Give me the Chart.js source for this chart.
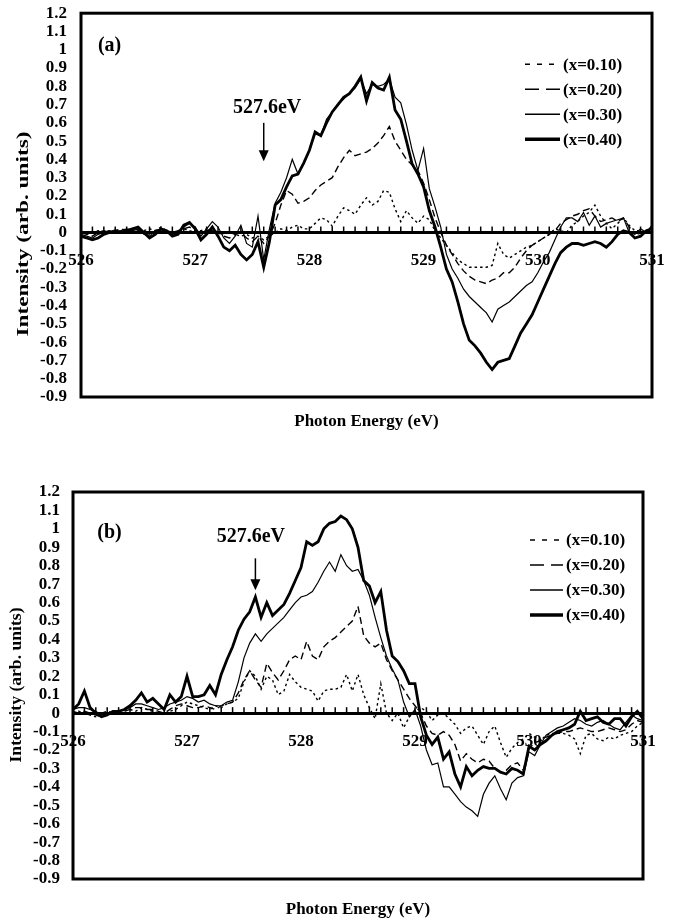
<!DOCTYPE html>
<html lang="en">
<head>
    <meta charset="UTF-8">
    <title>O K-edge difference spectra</title>
    <script src="https://cdn.jsdelivr.net/npm/chart.js"></script>
    <style>
        html, body { margin: 0; background: #fff; overflow: hidden; }
        .panel { position: absolute; left: 0; }
        #panelA { top: -11px; }
        #panelB { top: 440px; }
    </style>
</head>
<body>
    <canvas id="panelA" class="panel" width="683" height="451"></canvas>
    <canvas id="panelB" class="panel" width="674" height="482"></canvas>

    <script>
        // photon energy grid (eV)
        const energy = [
            526.00, 526.05, 526.10, 526.15, 526.20, 526.25, 526.30, 526.35, 526.40, 526.45,
            526.50, 526.55, 526.60, 526.65, 526.70, 526.75, 526.80, 526.85, 526.90, 526.95,
            527.00, 527.05, 527.10, 527.15, 527.20, 527.25, 527.30, 527.35, 527.40, 527.45,
            527.50, 527.55, 527.60, 527.65, 527.70, 527.75, 527.80, 527.85, 527.90, 527.95,
            528.00, 528.05, 528.10, 528.15, 528.20, 528.25, 528.30, 528.35, 528.40, 528.45,
            528.50, 528.55, 528.60, 528.65, 528.70, 528.75, 528.80, 528.85, 528.90, 528.95,
            529.00, 529.05, 529.10, 529.15, 529.20, 529.25, 529.30, 529.35, 529.40, 529.45,
            529.50, 529.55, 529.60, 529.65, 529.70, 529.75, 529.80, 529.85, 529.90, 529.95,
            530.00, 530.05, 530.10, 530.15, 530.20, 530.25, 530.30, 530.35, 530.40, 530.45,
            530.50, 530.55, 530.60, 530.65, 530.70, 530.75, 530.80, 530.85, 530.90, 530.95,
            531.00
        ];

        const seriesLabels = ["(x=0.10)", "(x=0.20)", "(x=0.30)", "(x=0.40)"];

        // panel (a)
        const a10 = [
            0.00, -0.01, 0.00, 0.01, 0.00, 0.01, 0.00, 0.01, 0.02, 0.01,
            0.00, 0.01, 0.02, 0.01, 0.03, 0.01, 0.00, 0.01, 0.02, 0.01,
            0.00, 0.01, 0.02, 0.01, 0.00, -0.01, 0.00, -0.01, -0.02, -0.01,
            -0.03, -0.02, -0.04, -0.02, 0.00, 0.02, 0.01, 0.03, 0.04, 0.02,
            0.02, 0.05, 0.08, 0.07, 0.035, 0.09, 0.135, 0.12, 0.10, 0.15,
            0.19, 0.15, 0.17, 0.23, 0.22, 0.13, 0.06, 0.12, 0.08, 0.05,
            0.09, 0.07, 0.01, -0.03, -0.07, -0.11, -0.15, -0.17, -0.19, -0.19,
            -0.19, -0.19, -0.18, -0.06, -0.12, -0.14, -0.12, -0.10, -0.08, -0.07,
            -0.05, -0.03, -0.01, 0.02, 0.01, 0.00, 0.04, 0.06, 0.09, 0.11,
            0.15, 0.09, 0.05, 0.02, 0.05, 0.08, 0.04, 0.01, 0.01, 0.00,
            0.01
        ];
        const a20 = [
            0.00, -0.01, -0.02, 0.00, 0.01, 0.00, 0.01, 0.02, 0.01, 0.00,
            0.01, 0.00, -0.01, 0.01, 0.02, 0.01, 0.00, 0.01, 0.02, 0.03,
            0.01, 0.00, 0.01, 0.02, 0.00, -0.02, -0.03, -0.01, 0.00, -0.03,
            -0.05, -0.02, -0.06, -0.02, 0.05, 0.15, 0.23, 0.21, 0.16, 0.17,
            0.19, 0.23, 0.26, 0.28, 0.30, 0.36, 0.41, 0.45, 0.42, 0.43,
            0.44, 0.46, 0.49, 0.53, 0.58, 0.50, 0.45, 0.40, 0.37, 0.34,
            0.27, 0.18, 0.08, 0.00, -0.07, -0.12, -0.17, -0.21, -0.24, -0.26,
            -0.27, -0.28, -0.26, -0.25, -0.22, -0.22, -0.19, -0.14, -0.10, -0.07,
            -0.05, -0.03, -0.01, 0.01, 0.05, 0.07, 0.09, 0.10, 0.12, 0.13,
            0.09, 0.06, 0.07, 0.08, 0.06, 0.08, 0.03, 0.00, -0.01, 0.01,
            0.02
        ];
        const a30 = [
            -0.01, -0.02, -0.03, -0.01, 0.00, 0.01, 0.00, 0.01, 0.02, 0.01,
            0.02, -0.01, -0.02, 0.01, 0.02, 0.00, -0.01, 0.00, 0.03, 0.05,
            0.03, -0.02, 0.02, 0.06, 0.03, -0.03, -0.06, -0.02, 0.04, -0.06,
            -0.08, 0.09, -0.15, 0.02, 0.16, 0.22, 0.30, 0.40, 0.32, 0.38,
            0.45, 0.54, 0.53, 0.62, 0.66, 0.70, 0.73, 0.76, 0.79, 0.84,
            0.76, 0.81, 0.80, 0.81, 0.84, 0.74, 0.71, 0.59, 0.45, 0.34,
            0.46, 0.24, 0.14, 0.03, -0.12, -0.20, -0.25, -0.31, -0.35, -0.38,
            -0.41, -0.44, -0.49, -0.42, -0.40, -0.38, -0.35, -0.32, -0.29, -0.27,
            -0.22, -0.16, -0.11, -0.04, 0.03, 0.08, 0.08, 0.06, 0.11, 0.04,
            0.09, 0.03, 0.05, 0.06, 0.07, 0.08, 0.00, -0.01, 0.02, 0.00,
            0.04
        ];
        const a40 = [
            -0.02, -0.03, -0.04, -0.03, -0.01, 0.00, 0.01, 0.00, 0.01, 0.02,
            0.03, 0.00, -0.03, -0.01, 0.02, 0.01, -0.02, -0.01, 0.04, 0.055,
            0.02, -0.04, -0.01, 0.03, -0.02, -0.08, -0.10, -0.07, -0.12, -0.15,
            -0.12, -0.05, -0.19, -0.05, 0.15, 0.18, 0.25, 0.31, 0.32, 0.38,
            0.45, 0.55, 0.53, 0.60, 0.66, 0.70, 0.74, 0.76, 0.80, 0.85,
            0.72, 0.82, 0.79, 0.78, 0.85, 0.67, 0.62, 0.50, 0.375, 0.32,
            0.25, 0.12, 0.03, -0.08, -0.20, -0.27, -0.38, -0.50, -0.59, -0.62,
            -0.66, -0.71, -0.75, -0.71, -0.70, -0.69, -0.62, -0.55, -0.50, -0.45,
            -0.38, -0.31, -0.24, -0.17, -0.11, -0.08, -0.06, -0.06, -0.07, -0.06,
            -0.05, -0.06, -0.08, -0.05, -0.01, 0.01, 0.00, -0.03, -0.02, 0.01,
            0.02
        ];

        // panel (b)
        const b10 = [
            0.00, 0.01, 0.00, -0.01, -0.02, 0.00, 0.01, 0.00, 0.01, 0.02,
            0.02, 0.01, 0.03, 0.02, 0.01, 0.00, -0.01, 0.01, 0.02, 0.04,
            0.06, 0.05, 0.04, 0.03, 0.02, 0.04, 0.03, 0.05, 0.06, 0.08,
            0.17, 0.23, 0.20, 0.13, 0.20, 0.18, 0.10, 0.12, 0.21, 0.17,
            0.14, 0.13, 0.12, 0.065, 0.12, 0.13, 0.13, 0.14, 0.21, 0.12,
            0.21, 0.10, 0.03, -0.03, 0.16, 0.00, -0.04, 0.00, -0.08, -0.02,
            0.01, 0.03, 0.01, -0.04, -0.01, 0.00, -0.03, -0.06, -0.11, -0.08,
            -0.07, -0.12, -0.17, -0.10, -0.07, -0.16, -0.24, -0.19, -0.16, -0.14,
            -0.11, -0.13, -0.15, -0.12, -0.11, -0.11, -0.11, -0.12, -0.14, -0.22,
            -0.12, -0.11, -0.14, -0.15, -0.13, -0.14, -0.12, -0.11, -0.10, -0.07,
            -0.05
        ];
        const b20 = [
            0.01, 0.00, 0.01, 0.00, -0.01, -0.02, 0.00, 0.01, 0.00, 0.01,
            0.02, 0.03, 0.03, 0.02, 0.02, 0.01, 0.00, 0.02, 0.04, 0.05,
            0.04, 0.03, 0.03, 0.04, 0.03, 0.02, 0.04, 0.05, 0.06, 0.11,
            0.18, 0.23, 0.18, 0.14, 0.27, 0.22, 0.18, 0.23, 0.29, 0.31,
            0.29, 0.39, 0.31, 0.29, 0.36, 0.39, 0.41, 0.44, 0.47, 0.50,
            0.58, 0.42, 0.38, 0.36, 0.38, 0.29, 0.23, 0.18, 0.13, 0.08,
            0.04, 0.00, -0.07, -0.11, -0.12, -0.10, -0.12, -0.17, -0.26, -0.22,
            -0.25, -0.27, -0.25, -0.26, -0.30, -0.32, -0.31, -0.28, -0.27, -0.31,
            -0.19, -0.16, -0.15, -0.13, -0.12, -0.11, -0.10, -0.10, -0.09, -0.08,
            -0.09, -0.10, -0.10, -0.09, -0.08, -0.09, -0.10, -0.09, -0.06, -0.04,
            -0.05
        ];
        const b30 = [
            0.02, 0.03, 0.03, 0.02, 0.01, -0.01, 0.00, 0.01, 0.01, 0.02,
            0.03, 0.05, 0.05, 0.04, 0.03, 0.02, 0.03, 0.05, 0.06, 0.07,
            0.09, 0.08, 0.06, 0.07, 0.05, 0.04, 0.04, 0.06, 0.07, 0.17,
            0.30, 0.38, 0.43, 0.39, 0.43, 0.46, 0.49, 0.52, 0.56, 0.60,
            0.63, 0.64, 0.66, 0.71, 0.77, 0.82, 0.77, 0.86, 0.80, 0.77,
            0.78, 0.72, 0.64, 0.52, 0.41, 0.31, 0.24, 0.18, 0.06, -0.02,
            0.02, -0.07, -0.20, -0.28, -0.27, -0.40, -0.40, -0.44, -0.48, -0.51,
            -0.53, -0.56, -0.44, -0.38, -0.34, -0.41, -0.47, -0.38, -0.35, -0.34,
            -0.21, -0.23, -0.17, -0.12, -0.10, -0.08, -0.07, -0.05, -0.03, -0.04,
            -0.06, -0.07, -0.05, -0.04, -0.06, -0.08, -0.09, -0.05, -0.01, -0.03,
            -0.04
        ];
        const b40 = [
            0.02, 0.05, 0.12, 0.03, 0.00, -0.02, -0.01, 0.01, 0.01, 0.02,
            0.04, 0.07, 0.11, 0.06, 0.08, 0.05, 0.02, 0.10, 0.06, 0.09,
            0.20, 0.09, 0.09, 0.10, 0.15, 0.10, 0.21, 0.29, 0.36, 0.45,
            0.51, 0.55, 0.63, 0.52, 0.60, 0.53, 0.56, 0.59, 0.65, 0.72,
            0.79, 0.93, 0.91, 0.93, 1.00, 1.03, 1.04, 1.07, 1.05, 1.00,
            0.90, 0.72, 0.69, 0.60, 0.66, 0.45, 0.31, 0.28, 0.23, 0.16,
            0.16, -0.02, -0.12, -0.17, -0.13, -0.25, -0.21, -0.33, -0.40, -0.29,
            -0.34, -0.31, -0.29, -0.30, -0.30, -0.32, -0.33, -0.30, -0.31, -0.33,
            -0.18, -0.20, -0.17, -0.15, -0.12, -0.10, -0.09, -0.08, -0.06, 0.01,
            -0.04, -0.03, -0.02, -0.05, -0.06, -0.03, -0.03, -0.07, -0.02, 0.01,
            -0.03
        ];

        const xMin = 526, xMax = 531;
        const yMin = -0.9, yMax = 1.2;
        const markerEnergy = 527.6;
        const markerLabel = "527.6eV";
        const xTitle = "Photon Energy (eV)";
        const yTitle = "Intensity (arb. units)";

        // line styles, same order as seriesLabels
        const lineWidths = [1.4, 1.4, 1.2, 2.8];
        const lineDashes = [[2.5, 3], [7, 4], [], []];
        const legendWidths = [1.5, 1.6, 1.5, 3.5];
        const legendDashes = [[5, 7], [14, 7], [], []];

        const serif = '"Liberation Serif", "Times New Roman", serif';

        function buildDatasets(series) {
            return series.map((vals, i) => ({
                label: seriesLabels[i],
                data: energy.map((e, j) => ({ x: e, y: vals[j] })),
                xAxisID: "x",
                yAxisID: "y",
                borderColor: "#000",
                borderWidth: lineWidths[i],
                borderDash: lineDashes[i],
                pointRadius: 0,
                tension: 0,
                fill: false
            }));
        }

        // frame, zero-line ticks, legend, marker arrow, panel tag and y title
        function makeDecor(cfg) {
            return {
                id: "decor",
                afterDraw(chart) {
                    const { ctx, chartArea: area, scales: { x, y } } = chart;
                    ctx.save();
                    ctx.strokeStyle = "#000";
                    ctx.fillStyle = "#000";

                    ctx.lineWidth = 3;
                    ctx.strokeRect(area.left, area.top, area.right - area.left, area.bottom - area.top);

                    const y0 = y.getPixelForValue(0);
                    ctx.lineWidth = 1.5;
                    x.ticks.forEach(t => {
                        const px = x.getPixelForValue(t.value);
                        ctx.beginPath();
                        ctx.moveTo(px, y0);
                        ctx.lineTo(px, y0 - 6);
                        ctx.stroke();
                    });

                    ctx.textBaseline = "middle";
                    ctx.textAlign = "center";
                    ctx.font = "bold 20px " + serif;
                    ctx.fillText(cfg.panel, x.getPixelForValue(cfg.panelAt.e), y.getPixelForValue(cfg.panelAt.v));

                    // 527.6 eV marker
                    ctx.fillText(markerLabel, x.getPixelForValue(cfg.marker.textE), y.getPixelForValue(cfg.marker.textV));
                    const mx = x.getPixelForValue(markerEnergy);
                    const yA = y.getPixelForValue(cfg.marker.from);
                    const yB = y.getPixelForValue(cfg.marker.to);
                    ctx.lineWidth = 1.5;
                    ctx.beginPath();
                    ctx.moveTo(mx, yA);
                    ctx.lineTo(mx, yB - 8);
                    ctx.stroke();
                    ctx.beginPath();
                    ctx.moveTo(mx - 5, yB - 11);
                    ctx.lineTo(mx + 5, yB - 11);
                    ctx.lineTo(mx, yB);
                    ctx.closePath();
                    ctx.fill();

                    // legend
                    ctx.textAlign = "left";
                    ctx.font = "bold 17px " + serif;
                    chart.data.datasets.forEach((ds, i) => {
                        const ly = area.top + cfg.legend.top + i * cfg.legend.step;
                        const lx = area.right - cfg.legend.fromRight;
                        ctx.lineWidth = legendWidths[i];
                        ctx.setLineDash(legendDashes[i]);
                        ctx.beginPath();
                        ctx.moveTo(lx, ly);
                        ctx.lineTo(lx + cfg.legend.sample, ly);
                        ctx.stroke();
                        ctx.setLineDash([]);
                        ctx.fillText(ds.label, lx + cfg.legend.sample + 3, ly + 1);
                    });

                    // rotated y title, stretched to the length it has in the figure
                    ctx.translate(cfg.yTitle.cx, cfg.yTitle.cy);
                    ctx.rotate(-Math.PI / 2);
                    ctx.font = "bold 17px " + serif;
                    ctx.textAlign = "center";
                    const w = ctx.measureText(yTitle).width;
                    ctx.scale(cfg.yTitle.len / w, 1);
                    ctx.fillText(yTitle, 0, 0);
                    ctx.restore();
                }
            };
        }

        function makeChart(canvasId, series, cfg) {
            const tickFont = { family: serif, size: 17, weight: "bold" };
            return new Chart(document.getElementById(canvasId), {
                type: "line",
                data: { datasets: buildDatasets(series) },
                plugins: [makeDecor(cfg)],
                options: {
                    responsive: false,
                    animation: false,
                    devicePixelRatio: 1,
                    layout: { padding: cfg.padding },
                    plugins: { legend: { display: false }, tooltip: { enabled: false } },
                    scales: {
                        x: {
                            type: "linear",
                            min: xMin,
                            max: xMax,
                            position: { y: 0 },
                            ticks: {
                                stepSize: 0.1,
                                autoSkip: false,
                                maxRotation: 0,
                                padding: 18,
                                color: "#000",
                                font: tickFont,
                                callback: v => Math.abs(v - Math.round(v)) < 1e-6 ? String(Math.round(v)) : ""
                            },
                            grid: { display: true, drawOnChartArea: false, drawTicks: false },
                            border: { display: true, color: "#000", width: 3 }
                        },
                        xTitle: {
                            type: "linear",
                            axis: "x",
                            position: "bottom",
                            min: 0,
                            max: 1,
                            ticks: { display: false },
                            grid: { display: false },
                            border: { display: false },
                            title: {
                                display: true,
                                text: xTitle,
                                color: "#000",
                                font: { family: serif, size: 17, weight: "bold" },
                                padding: { top: 0, bottom: cfg.xTitlePad }
                            },
                            afterFit: s => { s.height = cfg.xTitleBox; }
                        },
                        y: {
                            type: "linear",
                            min: yMin,
                            max: yMax,
                            afterFit: s => { s.width = cfg.yAxisWidth; },
                            ticks: {
                                stepSize: 0.1,
                                autoSkip: false,
                                padding: cfg.yTickPad,
                                color: "#000",
                                font: tickFont,
                                callback: v => String(parseFloat(v.toFixed(1)))
                            },
                            grid: { display: false, drawTicks: false },
                            border: { display: false }
                        }
                    }
                }
            });
        }

        // panel (a) canvas starts 11px above the page and is 10px wider than it
        makeChart("panelA", [a10, a20, a30, a40], {
            padding: { left: 0, top: 23, right: 31, bottom: 0 },
            yAxisWidth: 81,
            yTickPad: 14,
            xTitleBox: 43,
            xTitlePad: 8,
            panel: "(a)",
            panelAt: { e: 526.25, v: 1.02 },
            marker: { textE: 527.63, textV: 0.68, from: 0.60, to: 0.39 },
            legend: { top: 51, step: 25, fromRight: 127, sample: 35 },
            yTitle: { cx: 24, cy: 245, len: 205 }
        });

        makeChart("panelB", [b10, b20, b30, b40], {
            padding: { left: 0, top: 52, right: 31, bottom: 0 },
            yAxisWidth: 73,
            yTickPad: 13,
            xTitleBox: 43,
            xTitlePad: 2,
            panel: "(b)",
            panelAt: { e: 526.32, v: 0.98 },
            marker: { textE: 527.56, textV: 0.955, from: 0.84, to: 0.667 },
            legend: { top: 48, step: 25, fromRight: 113, sample: 33 },
            yTitle: { cx: 17, cy: 245, len: 155 }
        });
    </script>
</body>
</html>
